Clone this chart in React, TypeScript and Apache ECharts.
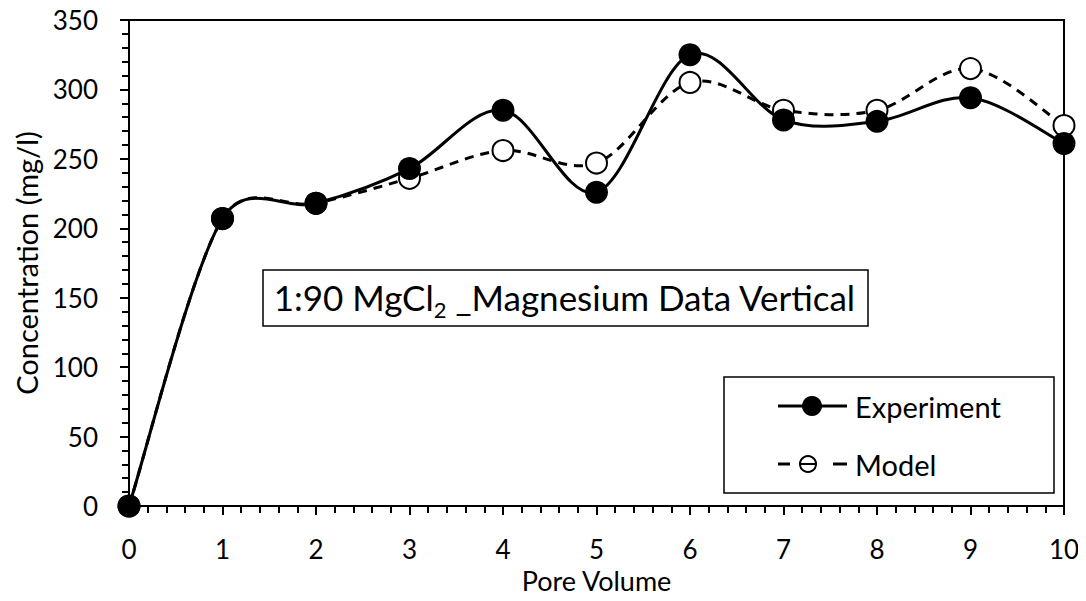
import React, { useEffect, useRef } from "react";
import * as echarts from "echarts";

const poreVolume = [0, 1, 2, 3, 4, 5, 6, 7, 8, 9, 10];
const experiment = [0, 207, 218, 243, 285, 226, 325, 278, 277, 294, 261];
const model = [0, 207, 218, 236, 256, 247, 305, 285, 285, 315, 274];
const yTicks = { min: 0, max: 350, interval: 50 };
const xTicks = { min: 0, max: 10, interval: 1 };
const titleParts = ["1:90 MgCl", "2", " _Magnesium Data Vertical"];
const FONT = "Lato";

function measure(text: string, size: number) {
  const c = document.createElement("canvas").getContext("2d");
  if (!c) return text.length * size * 0.5;
  c.font = `${size}px ${FONT}`;
  return c.measureText(text).width;
}

const dist = (a: number[], b: number[]) => Math.hypot(a[0] - b[0], a[1] - b[1]);

// Excel-like smoothed curve (Catmull-Rom style bezier, arm length limited) through axis coordinates
function smoothPath(pts: number[][]) {
  const n = pts.length;
  const P = (i: number) => pts[Math.max(0, Math.min(n - 1, i))];
  let d = `M${pts[0][0]},${pts[0][1]}`;
  for (let i = 0; i < n - 1; i++) {
    const p0 = P(i - 1), p1 = P(i), p2 = P(i + 1), p3 = P(i + 2);
    const d12 = dist(p1, p2);
    const d02 = dist(p0, p2) || 1;
    const d13 = dist(p1, p3) || 1;
    let f1 = 1 / 6, f2 = 1 / 6;
    if (f1 * d02 > d12 / 2) f1 = d12 / 2 / d02;
    if (f2 * d13 > d12 / 2) f2 = d12 / 2 / d13;
    const c1x = p1[0] + (p2[0] - p0[0]) * f1;
    const c1y = p1[1] + (p2[1] - p0[1]) * f1;
    const c2x = p2[0] - (p3[0] - p1[0]) * f2;
    const c2y = p2[1] - (p3[1] - p1[1]) * f2;
    d += ` C${c1x},${c1y} ${c2x},${c2y} ${p2[0]},${p2[1]}`;
  }
  return d;
}

function curveSeries(name: string, values: number[], dash: number[] | null) {
  return {
    name: name + " curve",
    type: "custom",
    data: poreVolume.map((x, i) => [x, values[i]]),
    encode: { x: 0, y: 1 },
    z: 2,
    silent: true,
    renderItem: (params: any, api: any) => {
      if (params.dataIndex !== 0) return null;
      const pts = poreVolume.map((x, i) => api.coord([x, values[i]]));
      return {
        type: "path",
        shape: { pathData: smoothPath(pts) },
        style: {
          fill: "none",
          stroke: "#000",
          lineWidth: 3,
          lineDash: dash || undefined,
        },
      };
    },
  };
}

export default function App() {
  const ref = useRef<HTMLDivElement>(null);
  useEffect(() => {
    const chart = echarts.init(ref.current!, undefined, { renderer: "svg" });
    const axisCommon = {
      axisLine: { show: true, lineStyle: { color: "#000", width: 2 } },
      axisTick: { show: true, inside: false, length: 9, lineStyle: { color: "#000", width: 2 } },
      minorTick: { show: true, splitNumber: 5, length: 7, lineStyle: { color: "#000", width: 2 } },
      splitLine: { show: false },
    };
    const lbl = { color: "#000", fontSize: 26, fontFamily: FONT };

    const mainSize = 35;
    const subSize = 22;
    const w1 = measure(titleParts[0], mainSize);
    const w2 = measure(titleParts[1], subSize);
    const w3 = measure(titleParts[2], mainSize);
    const tx0 = 565 - (w1 + w2 + w3) / 2;
    const ty = 297;

    chart.setOption({
      animation: false,
      backgroundColor: "#fff",
      grid: {
        left: 129,
        right: 22,
        top: 20,
        bottom: 95,
        show: true,
        borderColor: "#000",
        borderWidth: 2,
      },
      xAxis: {
        type: "value",
        ...xTicks,
        name: "Pore Volume",
        nameLocation: "middle",
        nameGap: 61,
        nameTextStyle: { color: "#000", fontSize: 27, fontFamily: FONT },
        ...axisCommon,
        axisLabel: { ...lbl, margin: 30 },
      },
      yAxis: {
        type: "value",
        ...yTicks,
        name: "Concentration (mg/l)",
        nameLocation: "middle",
        nameGap: 88,
        nameTextStyle: { color: "#000", fontSize: 29, fontFamily: FONT },
        ...axisCommon,
        axisLabel: { ...lbl, margin: 31 },
      },
      graphic: [
        {
          type: "group",
          z: 20,
          children: [
            { type: "rect", shape: { x: 724, y: 377, width: 330, height: 116 }, style: { fill: "#fff", stroke: "#000", lineWidth: 1.5 } },
            { type: "line", shape: { x1: 778, y1: 406, x2: 847, y2: 406 }, style: { stroke: "#000", lineWidth: 3 } },
            { type: "circle", shape: { cx: 812, cy: 406, r: 10 }, style: { fill: "#000" } },
            { type: "text", x: 855, y: 406, style: { text: "Experiment", fontSize: 29, fontFamily: FONT, fill: "#000", verticalAlign: "middle" } },
            { type: "line", shape: { x1: 778, y1: 464, x2: 790, y2: 464 }, style: { stroke: "#000", lineWidth: 3 } },
            { type: "circle", shape: { cx: 808, cy: 464, r: 8 }, style: { fill: "#fff", stroke: "#000", lineWidth: 2 } },
            { type: "line", shape: { x1: 800, y1: 464, x2: 816, y2: 464 }, style: { stroke: "#000", lineWidth: 2 } },
            { type: "line", shape: { x1: 833, y1: 464, x2: 847, y2: 464 }, style: { stroke: "#000", lineWidth: 3 } },
            { type: "text", x: 855, y: 464, style: { text: "Model", fontSize: 29, fontFamily: FONT, fill: "#000", verticalAlign: "middle" } },
          ],
        },
        {
          type: "group",
          z: 20,
          children: [
            { type: "rect", shape: { x: 263, y: 270, width: 605, height: 56 }, style: { fill: "#fff", stroke: "#000", lineWidth: 1.5 } },
            { type: "text", x: tx0, y: ty, style: { text: titleParts[0], fontSize: mainSize, fontFamily: FONT, fill: "#000", verticalAlign: "middle" } },
            { type: "text", x: tx0 + w1, y: ty + 12, style: { text: titleParts[1], fontSize: subSize, fontFamily: FONT, fill: "#000", verticalAlign: "middle" } },
            { type: "text", x: tx0 + w1 + w2, y: ty, style: { text: titleParts[2], fontSize: mainSize, fontFamily: FONT, fill: "#000", verticalAlign: "middle" } },
          ],
        },
      ],
      series: [
        curveSeries("Model", model, [9, 7]),
        curveSeries("Experiment", experiment, null),
        {
          name: "Model",
          type: "scatter",
          data: poreVolume.map((x, i) => [x, model[i]]),
          symbol: "circle",
          symbolSize: 21,
          itemStyle: { color: "#fff", borderColor: "#000", borderWidth: 2, opacity: 1 },
          z: 3,
        },
        {
          name: "Experiment",
          type: "scatter",
          data: poreVolume.map((x, i) => [x, experiment[i]]),
          symbol: "circle",
          symbolSize: 23,
          itemStyle: { color: "#000", opacity: 1 },
          z: 4,
        },
      ],
    });
    return () => chart.dispose();
  }, []);
  return <div ref={ref} style={{ width: 1086, height: 601, margin: -8 }} />;
}
